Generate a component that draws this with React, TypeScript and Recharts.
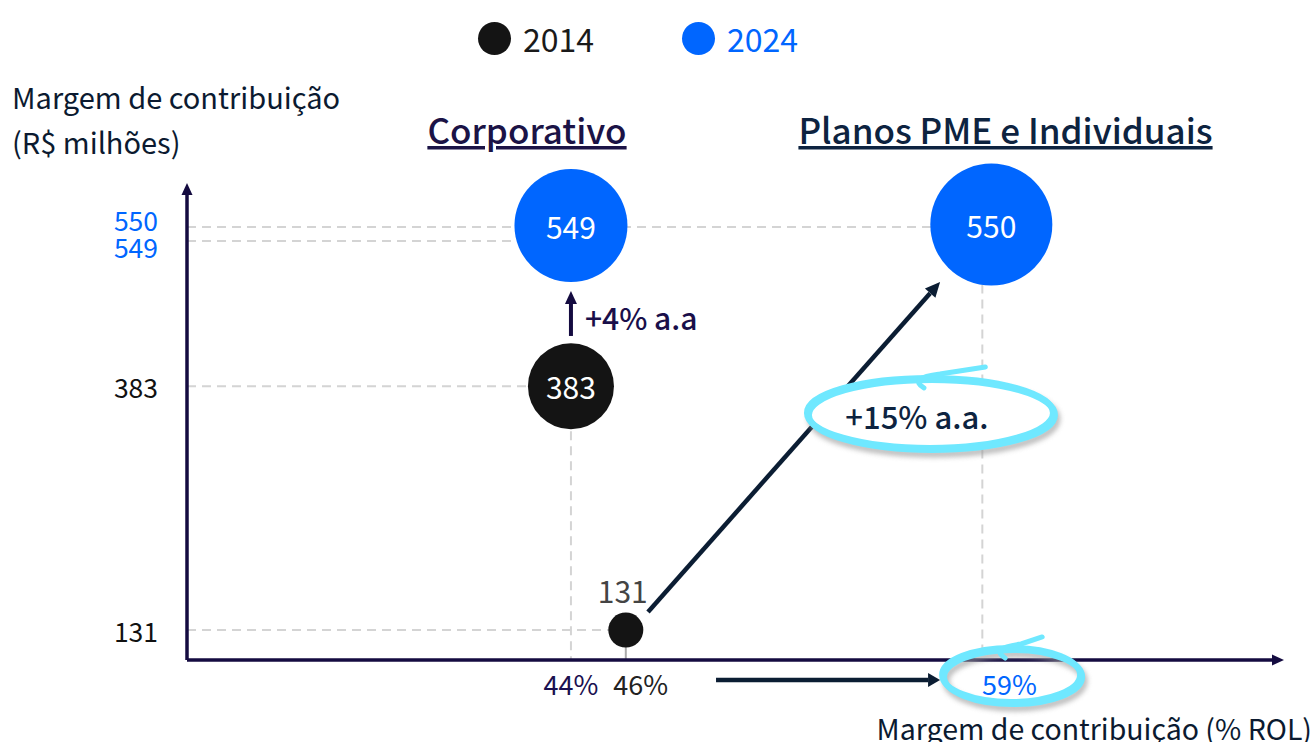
import React from 'react';
import { ScatterChart, Scatter, XAxis, YAxis, ReferenceLine, ReferenceDot, Legend } from 'recharts';

// ---------- data ----------
const years = ['2014', '2024'];
const segments = ['Corporativo', 'Planos PME e Individuais'];
const margemPct2014 = [44, 46];
const margemRS2014 = [383, 131];
const margemPct2024 = [44, 59];
const margemRS2024 = [549, 550];
const xTicks = [44, 46, 59];
const yTicks = [131, 383, 549, 550];
const growthLabels = ['+4% a.a', '+15% a.a.'];
const xTitle = 'Margem de contribuição (% ROL)';
const yTitle = ['Margem de contribuição', '(R$ milhões)'];
const xDomain = [30, 70];
const yDomain = [100, 593];

const data2014 = segments.map((s, i) => ({ seg: i, year: years[0], x: margemPct2014[i], y: margemRS2014[i] }));
const data2024 = segments.map((s, i) => ({ seg: i, year: years[1], x: margemPct2024[i], y: margemRS2024[i] }));

// ---------- styles ----------
const FONT = '"Noto Sans CJK JP", "Noto Sans", sans-serif';
const BLACK = '#141414';
const BLUE = '#0066ff';
const NAVY = '#140b40';
const DARK = '#0b1d33';
const CYAN = '#6fe8ff';
const GRID = '#d4d4d4';
const RADIUS: Record<string, number[]> = { '2014': [43, 17.5], '2024': [56.5, 61] };
const BUBBLE_DX: Record<string, number[]> = { '2014': [0, 0], '2024': [0, 9] };
const xTickStyle: Record<number, { color: string; dx: number }> = {
  44: { color: '#1a1050', dx: 0 },
  46: { color: '#222222', dx: 15 },
  59: { color: BLUE, dx: 27 },
};
const yTickStyle: Record<number, { color: string; dy: number }> = {
  131: { color: '#111111', dy: 0 },
  383: { color: '#111111', dy: 0 },
  549: { color: BLUE, dy: 21 },
  550: { color: BLUE, dy: -5.5 },
};

const Bubble = (props: any) => {
  const { cx, cy, payload } = props;
  const r = RADIUS[payload.year][payload.seg];
  const dx = BUBBLE_DX[payload.year][payload.seg];
  const fill = payload.year === years[0] ? BLACK : BLUE;
  const small = r < 25;
  return (
    <g>
      <circle cx={cx + dx} cy={cy} r={r} fill={fill} />
      {small ? (
        <text x={cx - 3} y={cy - 40} textAnchor="middle" dominantBaseline="central" fontFamily={FONT} fontSize={30} fill="#444444">
          {payload.y}
        </text>
      ) : (
        <text x={cx + dx} y={cy} textAnchor="middle" dominantBaseline="central" fontFamily={FONT} fontSize={30} fill="#ffffff">
          {payload.y}
        </text>
      )}
    </g>
  );
};

const XTick = (props: any) => {
  const { x, y, payload } = props;
  const st = xTickStyle[payload.value];
  return (
    <text x={x + st.dx} y={y + 23} textAnchor="middle" dominantBaseline="central" fontFamily={FONT} fontSize={27} fill={st.color}>
      {payload.value}%
    </text>
  );
};

const YTick = (props: any) => {
  const { x, y, payload } = props;
  const st = yTickStyle[payload.value];
  return (
    <text x={x} y={y + st.dy} textAnchor="end" dominantBaseline="central" fontFamily={FONT} fontSize={26.5} fill={st.color}>
      {payload.value}
    </text>
  );
};

const dashed = (dy: number, color = GRID, dash = '9 6') => (p: any) => (
  <line x1={p.x1} y1={p.y1 + dy} x2={p.x2} y2={p.y2 + dy} stroke={color} strokeWidth={2} strokeDasharray={dash} />
);

const arrow = (color: string, width: number, headLen: number, headHalf: number, label?: string, labelColor?: string) => (p: any) => {
  const { x1, y1, x2, y2 } = p;
  const ang = Math.atan2(y2 - y1, x2 - x1);
  const bx = x2 - headLen * Math.cos(ang);
  const by = y2 - headLen * Math.sin(ang);
  const nx = -Math.sin(ang) * headHalf;
  const ny = Math.cos(ang) * headHalf;
  return (
    <g>
      <line x1={x1} y1={y1} x2={bx} y2={by} stroke={color} strokeWidth={width} />
      <polygon points={`${x2},${y2} ${bx + nx},${by + ny} ${bx - nx},${by - ny}`} fill={color} />
      {label ? (
        <text x={x2 + 14} y={(y1 + y2) / 2 + 4} dominantBaseline="central" fontFamily={FONT} fontSize={30} fontWeight={500} fill={labelColor}>
          {label}
        </text>
      ) : null}
    </g>
  );
};

const loop = (id: string, rx: number, ry: number, fill: string, label?: string) => (p: any) => {
  const { cx, cy } = p;
  const tail = `M ${cx - 6} ${cy - ry + 10} Q ${cx - 22} ${cy - ry} ${cx + 10} ${cy - ry - 4} L ${cx + rx * 0.45} ${cy - ry - 11}`;
  return (
    <g>
      <defs>
        <filter id={id} x="-20%" y="-50%" width="140%" height="200%">
          <feGaussianBlur stdDeviation="2.5" />
        </filter>
      </defs>
      <ellipse cx={cx + 4} cy={cy + 6} rx={rx} ry={ry} fill="none" stroke="#9a9a9a" strokeWidth={7} filter={`url(#${id})`} opacity={0.65} />
      <ellipse cx={cx} cy={cy} rx={rx} ry={ry} fill={fill} stroke={CYAN} strokeWidth={6} />
      <ellipse cx={cx + 2} cy={cy + 2} rx={rx} ry={ry} fill="none" stroke={CYAN} strokeWidth={6} />
      <path d={tail} fill="none" stroke={CYAN} strokeWidth={5} strokeLinecap="round" />
      {label ? (
        <text x={cx - 13} y={cy + 3} textAnchor="middle" dominantBaseline="central" fontFamily={FONT} fontSize={31} fontWeight={500} fill="#0d2340">
          {label}
        </text>
      ) : null}
    </g>
  );
};

const LegendContent = (props: any) => {
  const items = props.payload || [];
  const lefts = [478, 682];
  return (
    <div style={{ position: 'relative', width: 1315, height: 80 }}>
      {items.map((it: any, i: number) => (
        <div key={i} style={{ position: 'absolute', left: lefts[i], top: 22, height: 33, display: 'flex', alignItems: 'center' }}>
          <div style={{ width: 33, height: 33, borderRadius: '50%', background: it.color }} />
          <span style={{ marginLeft: 12, fontFamily: FONT, fontSize: 32, lineHeight: '33px', color: i === 0 ? '#1a1a1a' : BLUE }}>{it.value}</span>
        </div>
      ))}
    </div>
  );
};

export default function App() {
  return (
    <div style={{ position: 'absolute', left: 0, top: 0, width: 1315, height: 742, overflow: 'hidden', background: '#fff' }}>
      <ScatterChart width={1315} height={742} margin={{ top: 183, right: 31, left: 107, bottom: 52 }} style={{ overflow: 'visible' }}>
        <XAxis type="number" dataKey="x" domain={xDomain} ticks={xTicks} interval={0} axisLine={false} tickLine={false} tickSize={0} tickMargin={0} height={30} tick={<XTick />} />
        <YAxis type="number" dataKey="y" domain={yDomain} ticks={yTicks} interval={0} axisLine={false} tickLine={false} tickSize={0} tickMargin={29} width={80} tick={<YTick />} />
        <Legend layout="horizontal" verticalAlign="middle" align="center" wrapperStyle={{ top: 0, left: 0, width: 1315, height: 80 }} content={<LegendContent />} />

        {/* guide lines */}
        <ReferenceLine ifOverflow="visible" segment={[{ x: xDomain[0], y: margemRS2024[1] }, { x: margemPct2024[1], y: margemRS2024[1] }]} shape={dashed(2.3)} />
        <ReferenceLine ifOverflow="visible" segment={[{ x: xDomain[0], y: margemRS2024[0] }, { x: margemPct2024[0], y: margemRS2024[0] }]} shape={dashed(15.4)} />
        <ReferenceLine ifOverflow="visible" segment={[{ x: xDomain[0], y: margemRS2014[0] }, { x: margemPct2014[0], y: margemRS2014[0] }]} shape={dashed(0)} />
        <ReferenceLine ifOverflow="visible" segment={[{ x: xDomain[0], y: margemRS2014[1] }, { x: margemPct2014[1], y: margemRS2014[1] }]} shape={dashed(0)} />
        <ReferenceLine ifOverflow="visible" segment={[{ x: margemPct2014[0], y: margemRS2014[0] }, { x: margemPct2014[0], y: yDomain[0] }]} shape={dashed(0)} />
        <ReferenceLine ifOverflow="visible" segment={[{ x: margemPct2024[1], y: margemRS2024[1] }, { x: margemPct2024[1], y: yDomain[0] }]} shape={dashed(0)} />
        <ReferenceLine ifOverflow="visible" segment={[{ x: margemPct2014[1], y: margemRS2014[1] }, { x: margemPct2014[1], y: yDomain[0] }]} shape={dashed(0, '#aaaaaa', 'none')} />

        {/* axes with arrow heads */}
        <ReferenceLine ifOverflow="visible" segment={[{ x: xDomain[0], y: yDomain[0] }, { x: xDomain[1], y: yDomain[0] }]} shape={arrow(NAVY, 3.5, 12, 5.5)} />
        <ReferenceLine ifOverflow="visible" segment={[{ x: xDomain[0], y: yDomain[0] }, { x: xDomain[0], y: yDomain[1] }]} shape={arrow(NAVY, 3.5, 12, 5.5)} />

        <Scatter name={years[0]} data={data2014} fill={BLACK} shape={<Bubble />} isAnimationActive={false} />
        <Scatter name={years[1]} data={data2024} fill={BLUE} shape={<Bubble />} isAnimationActive={false} />

        {/* annotations */}
        <ReferenceDot ifOverflow="visible" x={57.09} y={355.3} shape={loop('shadowA', 123, 35, '#ffffff', growthLabels[1])} />
        <ReferenceDot ifOverflow="visible" x={60.05} y={84.5} shape={loop('shadowB', 69, 27, 'none')} />
        <ReferenceLine ifOverflow="visible" segment={[{ x: 44, y: 434.9 }, { x: 44, y: 481.4 }]} shape={arrow(NAVY, 4, 13, 6, growthLabels[0], '#1a0f4a')} />
        <ReferenceLine ifOverflow="visible" segment={[{ x: 46.81, y: 149.6 }, { x: 57.46, y: 490.7 }]} shape={arrow(DARK, 4.5, 15, 7)} />
        <ReferenceLine ifOverflow="visible" segment={[{ x: 49.29, y: 79.3 }, { x: 57.46, y: 79.3 }]} shape={arrow(DARK, 4.5, 12, 7)} />
      </ScatterChart>

      <svg width={1315} height={742} style={{ position: 'absolute', left: 0, top: 0, pointerEvents: 'none' }}>
        <text x={527} y={144} textAnchor="middle" fontFamily={FONT} fontSize={35} fontWeight={500} fill="#1b1346" textDecoration="underline">{segments[0]}</text>
        <text x={1005.5} y={144} textAnchor="middle" fontFamily={FONT} fontSize={35} fontWeight={500} fill="#0d2340" textDecoration="underline">{segments[1]}</text>
        <text x={12} y={109} fontFamily={FONT} fontSize={29} fill="#0b1a30">{yTitle[0]}</text>
        <text x={12} y={154} fontFamily={FONT} fontSize={29} fill="#0b1a30">{yTitle[1]}</text>
        <text x={1312} y={740} textAnchor="end" fontFamily={FONT} fontSize={28.5} fill="#0b1a30">{xTitle}</text>
      </svg>
    </div>
  );
}
